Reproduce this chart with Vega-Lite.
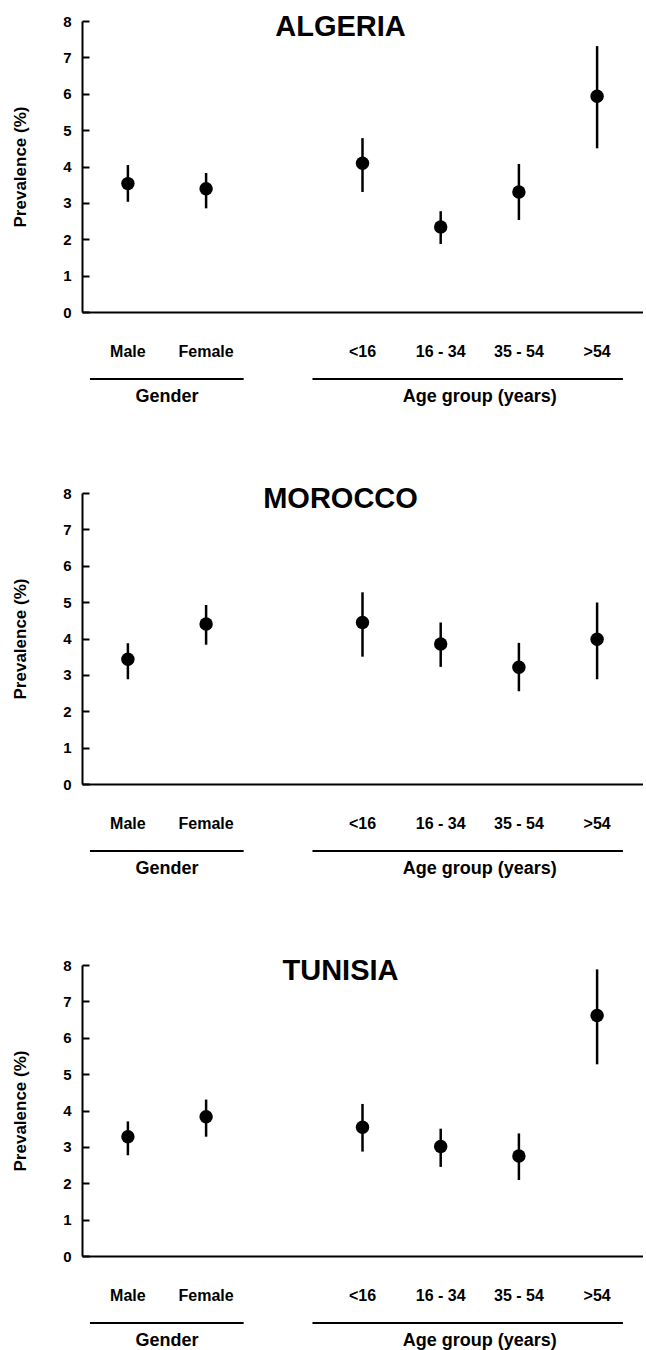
{
  "$schema": "https://vega.github.io/schema/vega-lite/v6.json",
  "padding": {"left": 11, "top": 13, "right": 0, "bottom": 0},
  "spacing": 181,
  "bounds": "flush",
  "datasets": {
    "prev": [
      {"country": "Algeria", "category": "Male", "value": 3.53, "lo": 3.03, "hi": 4.04},
      {"country": "Algeria", "category": "Female", "value": 3.39, "lo": 2.85, "hi": 3.82},
      {"country": "Algeria", "category": "<16", "value": 4.09, "lo": 3.30, "hi": 4.78},
      {"country": "Algeria", "category": "16 - 34", "value": 2.34, "lo": 1.87, "hi": 2.77},
      {"country": "Algeria", "category": "35 - 54", "value": 3.30, "lo": 2.53, "hi": 4.07},
      {"country": "Algeria", "category": ">54", "value": 5.93, "lo": 4.50, "hi": 7.31},
      {"country": "Morocco", "category": "Male", "value": 3.43, "lo": 2.88, "hi": 3.87},
      {"country": "Morocco", "category": "Female", "value": 4.40, "lo": 3.83, "hi": 4.92},
      {"country": "Morocco", "category": "<16", "value": 4.44, "lo": 3.50, "hi": 5.27},
      {"country": "Morocco", "category": "16 - 34", "value": 3.85, "lo": 3.22, "hi": 4.44},
      {"country": "Morocco", "category": "35 - 54", "value": 3.21, "lo": 2.55, "hi": 3.88},
      {"country": "Morocco", "category": ">54", "value": 3.98, "lo": 2.88, "hi": 4.99},
      {"country": "Tunisia", "category": "Male", "value": 3.28, "lo": 2.77, "hi": 3.70},
      {"country": "Tunisia", "category": "Female", "value": 3.83, "lo": 3.28, "hi": 4.30},
      {"country": "Tunisia", "category": "<16", "value": 3.54, "lo": 2.87, "hi": 4.18},
      {"country": "Tunisia", "category": "16 - 34", "value": 3.01, "lo": 2.45, "hi": 3.50},
      {"country": "Tunisia", "category": "35 - 54", "value": 2.75, "lo": 2.09, "hi": 3.37},
      {"country": "Tunisia", "category": ">54", "value": 6.61, "lo": 5.27, "hi": 7.88}
    ],
    "groups": [
      {"group": "Gender", "first": "Male", "last": "Female"},
      {"group": "Age group (years)", "first": "<16", "last": ">54"}
    ]
  },
  "vconcat": [
    {
      "width": 561, "height": 291,
      "title": {"text": "ALGERIA", "fontSize": 29, "fontWeight": "bold", "color": "black", "anchor": "middle", "frame": "group", "dx": -22, "dy": 28, "baseline": "alphabetic", "offset": -23},
      "data": {"name": "prev"},
      "transform": [{"filter": "datum.country === 'Algeria'"}],
      "layer": [
        {"mark": {"type": "rule", "color": "black", "strokeWidth": 2.5},
         "encoding": {
           "x": {"field": "category", "type": "nominal", "scale": {"type": "band", "domain": ["Male", "Female", " ", "<16", "16 - 34", "35 - 54", ">54"], "paddingInner": 0, "paddingOuter": 0.087}, "axis": {"title": null}},
           "y": {"field": "lo", "type": "quantitative", "scale": {"domain": [0, 8], "nice": false}, "axis": {"title": "Prevalence (%)"}},
           "y2": {"field": "hi"}}},
        {"mark": {"type": "circle", "color": "black", "opacity": 1, "size": 180},
         "encoding": {
           "x": {"field": "category", "type": "nominal", "axis": {"title": null}},
           "y": {"field": "value", "type": "quantitative", "axis": {"title": "Prevalence (%)"}}}},
        {"data": {"name": "groups"},
         "transform": [{"filter": "datum.group === 'Gender'"}],
         "layer": [
           {"mark": {"type": "rule", "color": "black", "strokeWidth": 2},
            "encoding": {
              "x": {"field": "first", "type": "nominal", "bandPosition": 0.015, "axis": {"title": null}},
              "x2": {"field": "last", "bandPosition": 0.98},
              "y": {"datum": -1.84}}},
           {"mark": {"type": "text", "color": "black", "fontSize": 18, "fontWeight": "bold", "baseline": "middle", "align": "center"},
            "encoding": {
              "x": {"field": "first", "type": "nominal", "bandPosition": 1.0, "axis": {"title": null}},
              "y": {"datum": -2.33},
              "text": {"field": "group"}}}
         ]},
        {"data": {"name": "groups"},
         "transform": [{"filter": "datum.group === 'Age group (years)'"}],
         "layer": [
           {"mark": {"type": "rule", "color": "black", "strokeWidth": 2},
            "encoding": {
              "x": {"field": "first", "type": "nominal", "bandPosition": -0.14, "axis": {"title": null}},
              "x2": {"field": "last", "bandPosition": 0.83},
              "y": {"datum": -1.84}}},
           {"mark": {"type": "text", "color": "black", "fontSize": 18, "fontWeight": "bold", "baseline": "middle", "align": "center"},
            "encoding": {
              "x": {"field": "first", "type": "nominal", "bandPosition": 2.0, "axis": {"title": null}},
              "y": {"datum": -2.33},
              "text": {"field": "group"}}}
         ]}
      ]
    },
    {
      "width": 561, "height": 291,
      "title": {"text": "MOROCCO", "fontSize": 29, "fontWeight": "bold", "color": "black", "anchor": "middle", "frame": "group", "dx": -22, "dy": 28, "baseline": "alphabetic", "offset": -23},
      "data": {"name": "prev"},
      "transform": [{"filter": "datum.country === 'Morocco'"}],
      "layer": [
        {"mark": {"type": "rule", "color": "black", "strokeWidth": 2.5},
         "encoding": {
           "x": {"field": "category", "type": "nominal", "scale": {"type": "band", "domain": ["Male", "Female", " ", "<16", "16 - 34", "35 - 54", ">54"], "paddingInner": 0, "paddingOuter": 0.087}, "axis": {"title": null}},
           "y": {"field": "lo", "type": "quantitative", "scale": {"domain": [0, 8], "nice": false}, "axis": {"title": "Prevalence (%)"}},
           "y2": {"field": "hi"}}},
        {"mark": {"type": "circle", "color": "black", "opacity": 1, "size": 180},
         "encoding": {
           "x": {"field": "category", "type": "nominal", "axis": {"title": null}},
           "y": {"field": "value", "type": "quantitative", "axis": {"title": "Prevalence (%)"}}}},
        {"data": {"name": "groups"},
         "transform": [{"filter": "datum.group === 'Gender'"}],
         "layer": [
           {"mark": {"type": "rule", "color": "black", "strokeWidth": 2},
            "encoding": {
              "x": {"field": "first", "type": "nominal", "bandPosition": 0.015, "axis": {"title": null}},
              "x2": {"field": "last", "bandPosition": 0.98},
              "y": {"datum": -1.84}}},
           {"mark": {"type": "text", "color": "black", "fontSize": 18, "fontWeight": "bold", "baseline": "middle", "align": "center"},
            "encoding": {
              "x": {"field": "first", "type": "nominal", "bandPosition": 1.0, "axis": {"title": null}},
              "y": {"datum": -2.33},
              "text": {"field": "group"}}}
         ]},
        {"data": {"name": "groups"},
         "transform": [{"filter": "datum.group === 'Age group (years)'"}],
         "layer": [
           {"mark": {"type": "rule", "color": "black", "strokeWidth": 2},
            "encoding": {
              "x": {"field": "first", "type": "nominal", "bandPosition": -0.14, "axis": {"title": null}},
              "x2": {"field": "last", "bandPosition": 0.83},
              "y": {"datum": -1.84}}},
           {"mark": {"type": "text", "color": "black", "fontSize": 18, "fontWeight": "bold", "baseline": "middle", "align": "center"},
            "encoding": {
              "x": {"field": "first", "type": "nominal", "bandPosition": 2.0, "axis": {"title": null}},
              "y": {"datum": -2.33},
              "text": {"field": "group"}}}
         ]}
      ]
    },
    {
      "width": 561, "height": 291,
      "title": {"text": "TUNISIA", "fontSize": 29, "fontWeight": "bold", "color": "black", "anchor": "middle", "frame": "group", "dx": -22, "dy": 28, "baseline": "alphabetic", "offset": -23},
      "data": {"name": "prev"},
      "transform": [{"filter": "datum.country === 'Tunisia'"}],
      "layer": [
        {"mark": {"type": "rule", "color": "black", "strokeWidth": 2.5},
         "encoding": {
           "x": {"field": "category", "type": "nominal", "scale": {"type": "band", "domain": ["Male", "Female", " ", "<16", "16 - 34", "35 - 54", ">54"], "paddingInner": 0, "paddingOuter": 0.087}, "axis": {"title": null}},
           "y": {"field": "lo", "type": "quantitative", "scale": {"domain": [0, 8], "nice": false}, "axis": {"title": "Prevalence (%)"}},
           "y2": {"field": "hi"}}},
        {"mark": {"type": "circle", "color": "black", "opacity": 1, "size": 180},
         "encoding": {
           "x": {"field": "category", "type": "nominal", "axis": {"title": null}},
           "y": {"field": "value", "type": "quantitative", "axis": {"title": "Prevalence (%)"}}}},
        {"data": {"name": "groups"},
         "transform": [{"filter": "datum.group === 'Gender'"}],
         "layer": [
           {"mark": {"type": "rule", "color": "black", "strokeWidth": 2},
            "encoding": {
              "x": {"field": "first", "type": "nominal", "bandPosition": 0.015, "axis": {"title": null}},
              "x2": {"field": "last", "bandPosition": 0.98},
              "y": {"datum": -1.84}}},
           {"mark": {"type": "text", "color": "black", "fontSize": 18, "fontWeight": "bold", "baseline": "middle", "align": "center"},
            "encoding": {
              "x": {"field": "first", "type": "nominal", "bandPosition": 1.0, "axis": {"title": null}},
              "y": {"datum": -2.33},
              "text": {"field": "group"}}}
         ]},
        {"data": {"name": "groups"},
         "transform": [{"filter": "datum.group === 'Age group (years)'"}],
         "layer": [
           {"mark": {"type": "rule", "color": "black", "strokeWidth": 2},
            "encoding": {
              "x": {"field": "first", "type": "nominal", "bandPosition": -0.14, "axis": {"title": null}},
              "x2": {"field": "last", "bandPosition": 0.83},
              "y": {"datum": -1.84}}},
           {"mark": {"type": "text", "color": "black", "fontSize": 18, "fontWeight": "bold", "baseline": "middle", "align": "center"},
            "encoding": {
              "x": {"field": "first", "type": "nominal", "bandPosition": 2.0, "axis": {"title": null}},
              "y": {"datum": -2.33},
              "text": {"field": "group"}}}
         ]}
      ]
    }
  ],
  "config": {
    "font": "Liberation Sans",
    "background": "white",
    "view": {"stroke": null},
    "axis": {"domainColor": "black", "domainWidth": 2, "labelColor": "black", "labelFontWeight": "bold", "titleColor": "black", "titleFontWeight": "bold", "grid": false},
    "axisX": {"ticks": false, "labelAngle": 0, "labelFontSize": 16, "labelPadding": 31, "labelBaseline": "top"},
    "axisY": {"tickCount": 8, "tickSize": -7, "tickWidth": 2, "tickColor": "black", "labelFontSize": 15, "labelPadding": 18, "titleFontSize": 17, "titlePadding": 33}
  }
}
